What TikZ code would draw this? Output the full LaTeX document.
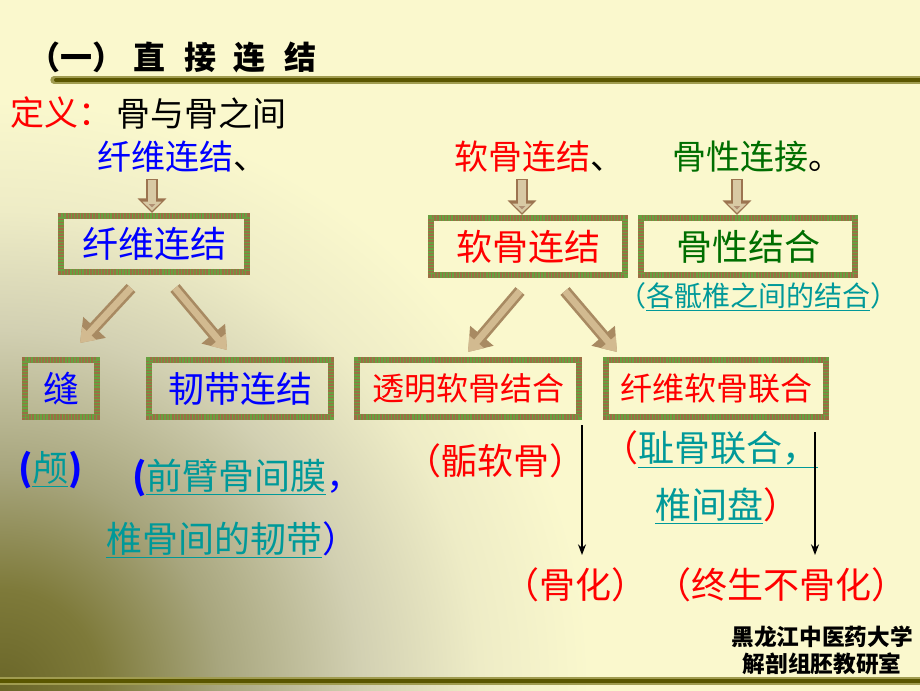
\documentclass[tikz,border=0pt]{standalone}
\usepackage{fontspec}
\setmainfont{Noto Sans CJK SC}
\usetikzlibrary{arrows.meta}
\definecolor{bgc}{HTML}{FAF8CD}
\definecolor{olA}{HTML}{6A6628}
\definecolor{olB}{HTML}{7E7A3A}
\definecolor{olC}{HTML}{A8A67E}
\definecolor{olD}{HTML}{D2D0B2}
\definecolor{olE}{HTML}{EEECC6}
\definecolor{rulea}{HTML}{A09C50}
\definecolor{ruleb}{HTML}{5A5600}
\definecolor{boxbrown}{HTML}{9C6E44}
\definecolor{boxgreen}{HTML}{68A040}
\definecolor{arrout}{HTML}{A88A62}
\definecolor{arrin}{HTML}{D2BA90}
\definecolor{sarrout}{HTML}{9C7450}
\definecolor{sarrin}{HTML}{D8C9A4}
\definecolor{dkgreen}{HTML}{006E00}
\definecolor{teal2}{HTML}{009999}
\pgfdeclareradialshading{cornershade}{\pgfpoint{0bp}{0bp}}{color(0bp)=(olA); color(2.1bp)=(olB); color(4.6bp)=(olC); color(7.5bp)=(olD); color(10bp)=(olE); color(12.3bp)=(bgc); color(50bp)=(bgc)}
\begin{document}
\begin{tikzpicture}[x=0.75pt,y=-0.75pt,
  txt/.style={inner sep=0pt, outer sep=0pt},
  tA/.style={font=\fontsize{25.5}{28}\selectfont},
  tB/.style={font=\fontsize{27}{30}\selectfont},
  tC/.style={font=\fontsize{24}{27}\selectfont},
  tD/.style={font=\fontsize{21}{24}\selectfont},
  tE/.style={font=\fontsize{17}{20}\selectfont\bfseries},
  box/.style={draw=boxbrown, line width=4.5pt, inner sep=0pt, minimum height=42.75pt,
    postaction={draw=boxgreen, line width=4.5pt, dash pattern=on 1pt off 1.3pt}},
  bigout/.style={draw=arrout, line width=9pt, -{Triangle[width=22pt,length=16pt]}},
  bigin/.style={draw=arrin, line width=5pt, -{Triangle[width=14pt,length=10pt]}},
  smout/.style={draw=sarrout, line width=9pt, -{Triangle[width=21pt,length=11pt]}},
  smin/.style={draw=sarrin, line width=5.5pt, -{Triangle[width=14pt,length=7pt, fill=sarrout!80!white]}},
  thinarr/.style={draw=black, line width=1.1pt, -{Stealth[width=6pt,length=8pt]}}
]
\useasboundingbox (0,0) rectangle (920,690);
\fill[bgc] (0,0) rectangle (920,690);
\begin{scope}
\clip (0,0) rectangle (920,690);
\shade[shading=cornershade] (0,690) circle[radius=900pt];
\end{scope}
% rules
\draw[rulea, line width=5.5pt, line cap=round] (54,80) -- (925,80);
\draw[ruleb, line width=3pt, line cap=round] (56,80) -- (925,80);
\draw[rulea, line width=6pt] (-5,681) -- (925,681);
\draw[ruleb, line width=3.5pt] (-5,681) -- (925,681);
% title
\node[txt, anchor=west, font=\fontsize{24}{26}\selectfont\bfseries] (title) at (28,57)
  {（一）\hspace{7.5pt}直\hspace{13.5pt}接\hspace{13.5pt}连\hspace{13.5pt}结};
% definition
\node[txt, tA, anchor=west, text=red] (def) at (10,113) {定义：};
\node[txt, tA, anchor=west] (defb) at (116,113) {骨与骨之间};
\node[txt, tA, anchor=west] (h1) at (97,157) {\textcolor{blue}{纤维连结}、};
\node[txt, tA, anchor=west] (h2) at (454,157) {\textcolor{red}{软骨连结}、};
\node[txt, tA, anchor=west] (h3) at (672,157) {\textcolor{dkgreen}{骨性连接}。};
% boxes
\node[box, tB, text=blue, minimum width=139.5pt, minimum height=42pt] (b1) at (154,244) {纤维连结};
\node[box, tB, text=red, minimum width=145.5pt] (b2) at (528,246.5) {软骨连结};
\node[box, tB, text=dkgreen, minimum width=160.5pt] (b3) at (748,246.5) {骨性结合};
\node[box, tB, text=blue, minimum width=54pt] (b4) at (61,388.5) {缝};
\node[box, tB, text=blue, minimum width=136.5pt] (b5) at (240,388.5) {韧带连结};
\node[box, tC, text=red, minimum width=166.5pt] (b6) at (468,388.5) {透明软骨结合};
\node[box, tC, text=red, minimum width=165pt] (b7) at (716,388.5) {纤维软骨联合};
% small down arrows
\coordinate (s1) at (152,179);
\coordinate (s2) at (522,179);
\coordinate (s3) at (737,179);
\foreach \s/\b in {s1/b1, s2/b2, s3/b3} {
  \draw[smout] (\s) -- (\s |- \b.north);
  \draw[smin] ([yshift=-1pt]\s) -- ([yshift=1.6pt]\s |- \b.north);
}
% diagonal arrows
\coordinate (d1s) at (131,288);
\coordinate (d1e) at (80,343);
\coordinate (d2s) at (175,288);
\coordinate (d2e) at (227,350);
\coordinate (d3s) at (520,291);
\coordinate (d3e) at (468,352);
\coordinate (d4s) at (565,291);
\coordinate (d4e) at (617,352);
\foreach \a/\e in {d1s/d1e, d2s/d2e, d3s/d3e, d4s/d4e} {
  \draw[bigout] (\a) -- (\e);
  \draw[bigin] (\a) -- (\e);
}
% examples
\node[txt, tB, anchor=west] (e1) at (18,470)
  {{\bfseries\textcolor{blue}{(}}\textcolor{teal2}{\underline{颅}}{\bfseries\textcolor{blue}{)}}};
\node[txt, tB, anchor=west] (e2) at (132,478)
  {{\bfseries\textcolor{blue}{(}}\textcolor{teal2}{\underline{前臂骨间膜}}\textcolor{blue}{，}};
\node[txt, tB, anchor=west] (e3) at (106,540)
  {\textcolor{teal2}{\underline{椎骨间的韧带}}\textcolor{blue}{）}};
\node[txt, tD, anchor=west, text=teal2] (e4) at (618,297)
  {（\underline{各骶椎之间的结合}）};
\node[txt, tB, anchor=west, text=red] (e5) at (405,461) {（骺软骨）};
\node[txt, tB, anchor=west] (e6) at (602,449)
  {\textcolor{red}{（}\textcolor{teal2}{\underline{耻骨联合，}}};
\node[txt, tB, anchor=west] (e7) at (655,506)
  {\textcolor{teal2}{\underline{椎间盘}}\textcolor{red}{）}};
\node[txt, tB, anchor=west, text=red] (r1) at (503,585) {（骨化）};
\node[txt, tB, anchor=west, text=red] (r2) at (655,585) {（终生不骨化）};
% thin arrows
\coordinate (v1s) at (582,425);
\coordinate (v1e) at (582,555);
\coordinate (v2s) at (815,432);
\coordinate (v2e) at (815,555);
\draw[thinarr] (v1s) -- (v1e);
\draw[thinarr] (v2s) -- (v2e);
% credits
\node[txt, tE] (c1) at (822,637) {黑龙江中医药大学};
\node[txt, tE] (c2) at (822,664) {解剖组胚教研室};
\end{tikzpicture}
\end{document}
